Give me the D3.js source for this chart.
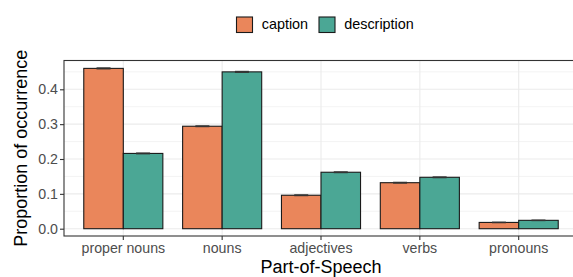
<!DOCTYPE html>
<html><head><meta charset="utf-8">
<script src="https://cdn.jsdelivr.net/npm/d3@7"></script>
<style>body{margin:0;background:#fff}svg{display:block;font-family:"Liberation Sans",Arial,sans-serif}</style>
</head><body><svg id="c" width="573" height="277"></svg>
<script>
const categories = ["proper nouns","nouns","adjectives","verbs","pronouns"];
const seriesNames = ["caption","description"];
const captionValues = [0.460,0.294,0.096,0.132,0.018];
const descriptionValues = [0.216,0.450,0.162,0.1475,0.024];
const captionErr = [0.0015,0.0012,0.0012,0.0012,0.0008];
const descriptionErr = [0.0012,0.0015,0.0012,0.0012,0.0008];
const yTicks = [0,0.1,0.2,0.3,0.4];
const yMinor = [0.05,0.15,0.25,0.35,0.45];
const colors = {caption:"#EA865B", description:"#4BA795"};

const svg = d3.select("#c");
const L = 64, R = 578, T = 60.5, B = 236;
const x = d3.scaleBand().domain(categories).range([L,R]).paddingOuter(0.1).paddingInner(0);
const x1 = d3.scaleBand().domain(seriesNames).range([0,x.bandwidth()]).paddingOuter(0.25).paddingInner(0);
const y = d3.scaleLinear().domain([0,0.1]).range([228.7,193.85]);

const g = svg.append("g");
g.selectAll(".ymin").data(yMinor).join("line").attr("x1",L).attr("x2",R)
  .attr("y1",d=>y(d)).attr("y2",d=>y(d)).attr("stroke","#EBEBEB").attr("stroke-width",0.6);
g.selectAll(".ymaj").data(yTicks).join("line").attr("x1",L).attr("x2",R)
  .attr("y1",d=>y(d)).attr("y2",d=>y(d)).attr("stroke","#EBEBEB").attr("stroke-width",1.1);
g.selectAll(".xmaj").data(categories).join("line").attr("y1",T).attr("y2",B)
  .attr("x1",d=>x(d)+x.bandwidth()/2).attr("x2",d=>x(d)+x.bandwidth()/2).attr("stroke","#EBEBEB").attr("stroke-width",1.1);

const data = [];
categories.forEach((c,i)=>{
  data.push({cat:c,s:"caption",v:captionValues[i],e:captionErr[i]});
  data.push({cat:c,s:"description",v:descriptionValues[i],e:descriptionErr[i]});
});
g.selectAll(".bar").data(data).join("rect")
  .attr("x",d=>x(d.cat)+x1(d.s)).attr("width",x1.bandwidth())
  .attr("y",d=>y(d.v)).attr("height",d=>y(0)-y(d.v))
  .attr("fill",d=>colors[d.s]).attr("stroke","#1a1a1a").attr("stroke-width",1.1);
const ew = 14;
const eb = g.selectAll(".eb").data(data).join("g");
eb.append("line").attr("x1",d=>x(d.cat)+x1(d.s)+x1.bandwidth()/2-ew/2).attr("x2",d=>x(d.cat)+x1(d.s)+x1.bandwidth()/2+ew/2)
  .attr("y1",d=>y(d.v+d.e)).attr("y2",d=>y(d.v+d.e)).attr("stroke","#333").attr("stroke-width",1.1);
eb.append("line").attr("x1",d=>x(d.cat)+x1(d.s)+x1.bandwidth()/2-ew/2).attr("x2",d=>x(d.cat)+x1(d.s)+x1.bandwidth()/2+ew/2)
  .attr("y1",d=>y(d.v-d.e)).attr("y2",d=>y(d.v-d.e)).attr("stroke","#333").attr("stroke-width",1.1);

g.append("rect").attr("x",L).attr("y",T).attr("width",R-L).attr("height",B-T)
  .attr("fill","none").attr("stroke","#333").attr("stroke-width",1.1);

const yAxis = svg.append("g").attr("transform",`translate(${L},0)`)
  .call(d3.axisLeft(y).tickValues(yTicks).tickFormat(d3.format(".1f")).tickSize(4).tickPadding(2));
const xAxis = svg.append("g").attr("transform",`translate(0,${B})`)
  .call(d3.axisBottom(x).tickSize(4).tickPadding(3));
[yAxis,xAxis].forEach(a=>{
  a.select(".domain").remove();
  a.selectAll(".tick line").attr("stroke","#333").attr("stroke-width",1.1);
  a.selectAll("text").attr("fill","#4D4D4D").style("font-size","14.2px").style("font-family","Liberation Sans, Arial, sans-serif");
});

svg.append("text").attr("x",321).attr("y",273).attr("text-anchor","middle")
  .style("font-size","18px").attr("fill","#000").text("Part-of-Speech");
svg.append("text").attr("transform",`translate(27,${(T+B)/2}) rotate(-90)`).attr("text-anchor","middle")
  .style("font-size","18px").attr("fill","#000").text("Proportion of occurrence");

const leg = svg.append("g");
const legX = [236,318.5];
seriesNames.forEach((s,i)=>{
  leg.append("rect").attr("x",legX[i]+0.5).attr("y",17).attr("width",16).attr("height",15.5)
    .attr("fill",colors[s]).attr("stroke","#1a1a1a").attr("stroke-width",1.1);
  leg.append("text").attr("x",legX[i]+25.7).attr("y",28.5).style("font-size","14.4px").attr("fill","#000").text(s);
});
</script></body></html>
